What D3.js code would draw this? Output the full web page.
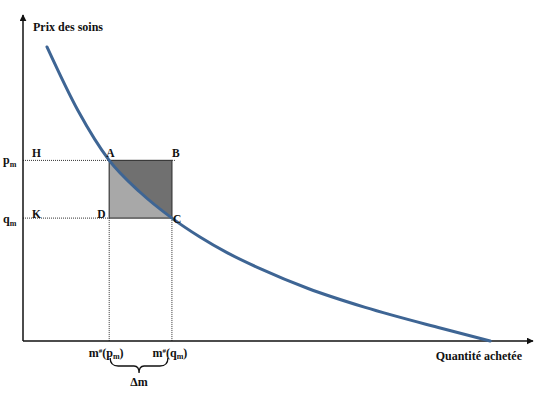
<!DOCTYPE html>
<html>
<head>
<meta charset="utf-8">
<script src="https://cdn.jsdelivr.net/npm/d3@7"></script>
<style>
  body { margin: 0; background: #fff; }
  svg text { font-family: 'Liberation Serif', 'DejaVu Serif', serif; font-weight: bold; fill: #111; }
</style>
</head>
<body>
<svg id="chart"></svg>
<script>
// demand curve (quantity, price)
const curveQty   = [4.7, 10.8, 16.9, 22.9, 29.2, 34.7, 40.0, 46.5, 55.9, 67.1, 82.0, 91.6];
const curvePrice = [90.2, 70.6, 55.4, 45.7, 37.7, 31.9, 27.1, 22.2, 16.1, 10.3, 3.9, 0];

// the two points A and C
const pm = 55.4, qm = 37.7;
const mp = 16.9, mq = 29.2;

const config = {
  width: 555, height: 418,
  x0: 23, x1: 533, y0: 341, y1: 15
};

const svg = d3.select('#chart')
  .attr('width', config.width)
  .attr('height', config.height)
  .attr('font-family', "'Liberation Serif', 'DejaVu Serif', serif");

const xScale = d3.scaleLinear().domain([0, 100]).range([config.x0, config.x1]);
const yScale = d3.scaleLinear().domain([0, 100]).range([config.y0, config.y1]);

const curveData = curveQty.map((q, i) => ({ q: q, p: curvePrice[i] }));

// arrow head
const defs = svg.append('defs');
defs.append('marker')
  .attr('id', 'arrow')
  .attr('viewBox', '0 0 10 10')
  .attr('refX', 9).attr('refY', 5)
  .attr('markerWidth', 7).attr('markerHeight', 7)
  .attr('markerUnits', 'userSpaceOnUse')
  .attr('orient', 'auto')
  .append('path')
  .attr('d', 'M0,0 L10,5 L0,10 Z')
  .attr('fill', '#111');

defs.append('clipPath')
  .attr('id', 'rectClip')
  .append('rect')
  .attr('x', xScale(mp)).attr('y', yScale(pm))
  .attr('width', xScale(mq) - xScale(mp))
  .attr('height', yScale(qm) - yScale(pm));

// rectangle ABCD, light part
svg.append('rect')
  .attr('x', xScale(mp)).attr('y', yScale(pm))
  .attr('width', xScale(mq) - xScale(mp))
  .attr('height', yScale(qm) - yScale(pm))
  .attr('fill', '#a8a8a8');

// darker part above the curve
const upperArea = d3.area()
  .x(d => xScale(d.q))
  .y0(yScale(100))
  .y1(d => yScale(d.p))
  .curve(d3.curveMonotoneX);

svg.append('path')
  .datum(curveData)
  .attr('clip-path', 'url(#rectClip)')
  .attr('d', upperArea)
  .attr('fill', '#707070');

svg.append('rect')
  .attr('x', xScale(mp)).attr('y', yScale(pm))
  .attr('width', xScale(mq) - xScale(mp))
  .attr('height', yScale(qm) - yScale(pm))
  .attr('fill', 'none')
  .attr('stroke', '#3a3a3a')
  .attr('stroke-width', 1.2);

// dotted guides
const guides = [
  [0, pm, mp, pm],
  [mq, pm, mq + 0.6, pm],
  [0, qm, mp, qm],
  [mp, qm, mp, 0],
  [mq, qm, mq, 0]
];
svg.selectAll('.guide')
  .data(guides)
  .join('line')
  .attr('class', 'guide')
  .attr('x1', d => xScale(d[0])).attr('y1', d => yScale(d[1]))
  .attr('x2', d => xScale(d[2])).attr('y2', d => yScale(d[3]))
  .attr('stroke', '#333')
  .attr('stroke-width', 1)
  .attr('stroke-dasharray', '1,1');

// axes
svg.append('line')
  .attr('x1', xScale(0)).attr('y1', yScale(0))
  .attr('x2', xScale(0)).attr('y2', yScale(100))
  .attr('stroke', '#111').attr('stroke-width', 1.5)
  .attr('marker-end', 'url(#arrow)');

svg.append('line')
  .attr('x1', xScale(0)).attr('y1', yScale(0))
  .attr('x2', xScale(100)).attr('y2', yScale(0))
  .attr('stroke', '#111').attr('stroke-width', 1.5)
  .attr('marker-end', 'url(#arrow)');

// demand curve
const line = d3.line()
  .x(d => xScale(d.q))
  .y(d => yScale(d.p))
  .curve(d3.curveMonotoneX);

svg.append('path')
  .datum(curveData)
  .attr('d', line)
  .attr('fill', 'none')
  .attr('stroke', '#3e6594')
  .attr('stroke-width', 3)
  .attr('stroke-linecap', 'round');

// titles
svg.append('text')
  .attr('x', 33).attr('y', 31)
  .attr('font-size', 12)
  .text('Prix des soins');

svg.append('text')
  .attr('x', 522).attr('y', 360)
  .attr('text-anchor', 'end')
  .attr('font-size', 12)
  .text('Quantité achetée');

// point letters
const letters = [
  { t: 'H', x: 0, y: pm, dx: 9, dy: -3 },
  { t: 'A', x: mp, y: pm, dx: -3, dy: -3 },
  { t: 'B', x: mq, y: pm, dx: 0, dy: -3 },
  { t: 'K', x: 0, y: qm, dx: 9, dy: 0 },
  { t: 'D', x: mp, y: qm, dx: -12, dy: 0 },
  { t: 'C', x: mq, y: qm, dx: 1, dy: 5 }
];
svg.selectAll('.letter')
  .data(letters)
  .join('text')
  .attr('class', 'letter')
  .attr('x', d => xScale(d.x) + d.dx)
  .attr('y', d => yScale(d.y) + d.dy)
  .attr('font-size', 11.5)
  .text(d => d.t);

// subscripted labels
function subLabel(x, y, base, sub) {
  const t = svg.append('text')
    .attr('x', x).attr('y', y)
    .attr('font-size', 12);
  t.append('tspan').text(base);
  t.append('tspan').attr('font-size', 8).attr('dy', 3).text(sub);
  return t;
}
subLabel(3, yScale(pm) + 4, 'p', 'm');
subLabel(3, yScale(qm) + 5, 'q', 'm');

function mLabel(cx, y, base) {
  const t = svg.append('text')
    .attr('x', cx).attr('y', y)
    .attr('font-size', 12)
    .attr('text-anchor', 'middle');
  t.append('tspan').text('m');
  t.append('tspan').attr('font-size', 7).attr('dy', -4).text('#');
  t.append('tspan').attr('dy', 4).text('(' + base);
  t.append('tspan').attr('font-size', 8).attr('dy', 2).text('m');
  t.append('tspan').attr('dy', -2).text(')');
}
mLabel(xScale(mp) - 3, 357, 'p');
mLabel(xScale(mq) - 2, 357, 'q');

// brace under the two labels
const bx0 = xScale(mp) + 1, bx1 = xScale(mq) - 4, bm = (bx0 + bx1) / 2;
const by = 358;
svg.append('path')
  .attr('d', `M${bx0},${by} Q${bx0},${by + 8} ${bx0 + 8},${by + 8}
              L${bm - 5},${by + 8} Q${bm},${by + 8} ${bm},${by + 15}
              Q${bm},${by + 8} ${bm + 5},${by + 8}
              L${bx1 - 8},${by + 8} Q${bx1},${by + 8} ${bx1},${by}`)
  .attr('fill', 'none')
  .attr('stroke', '#111')
  .attr('stroke-width', 1.3);

svg.append('text')
  .attr('x', bm).attr('y', 386)
  .attr('text-anchor', 'middle')
  .attr('font-size', 12)
  .text('Δm');
</script>
</body>
</html>
